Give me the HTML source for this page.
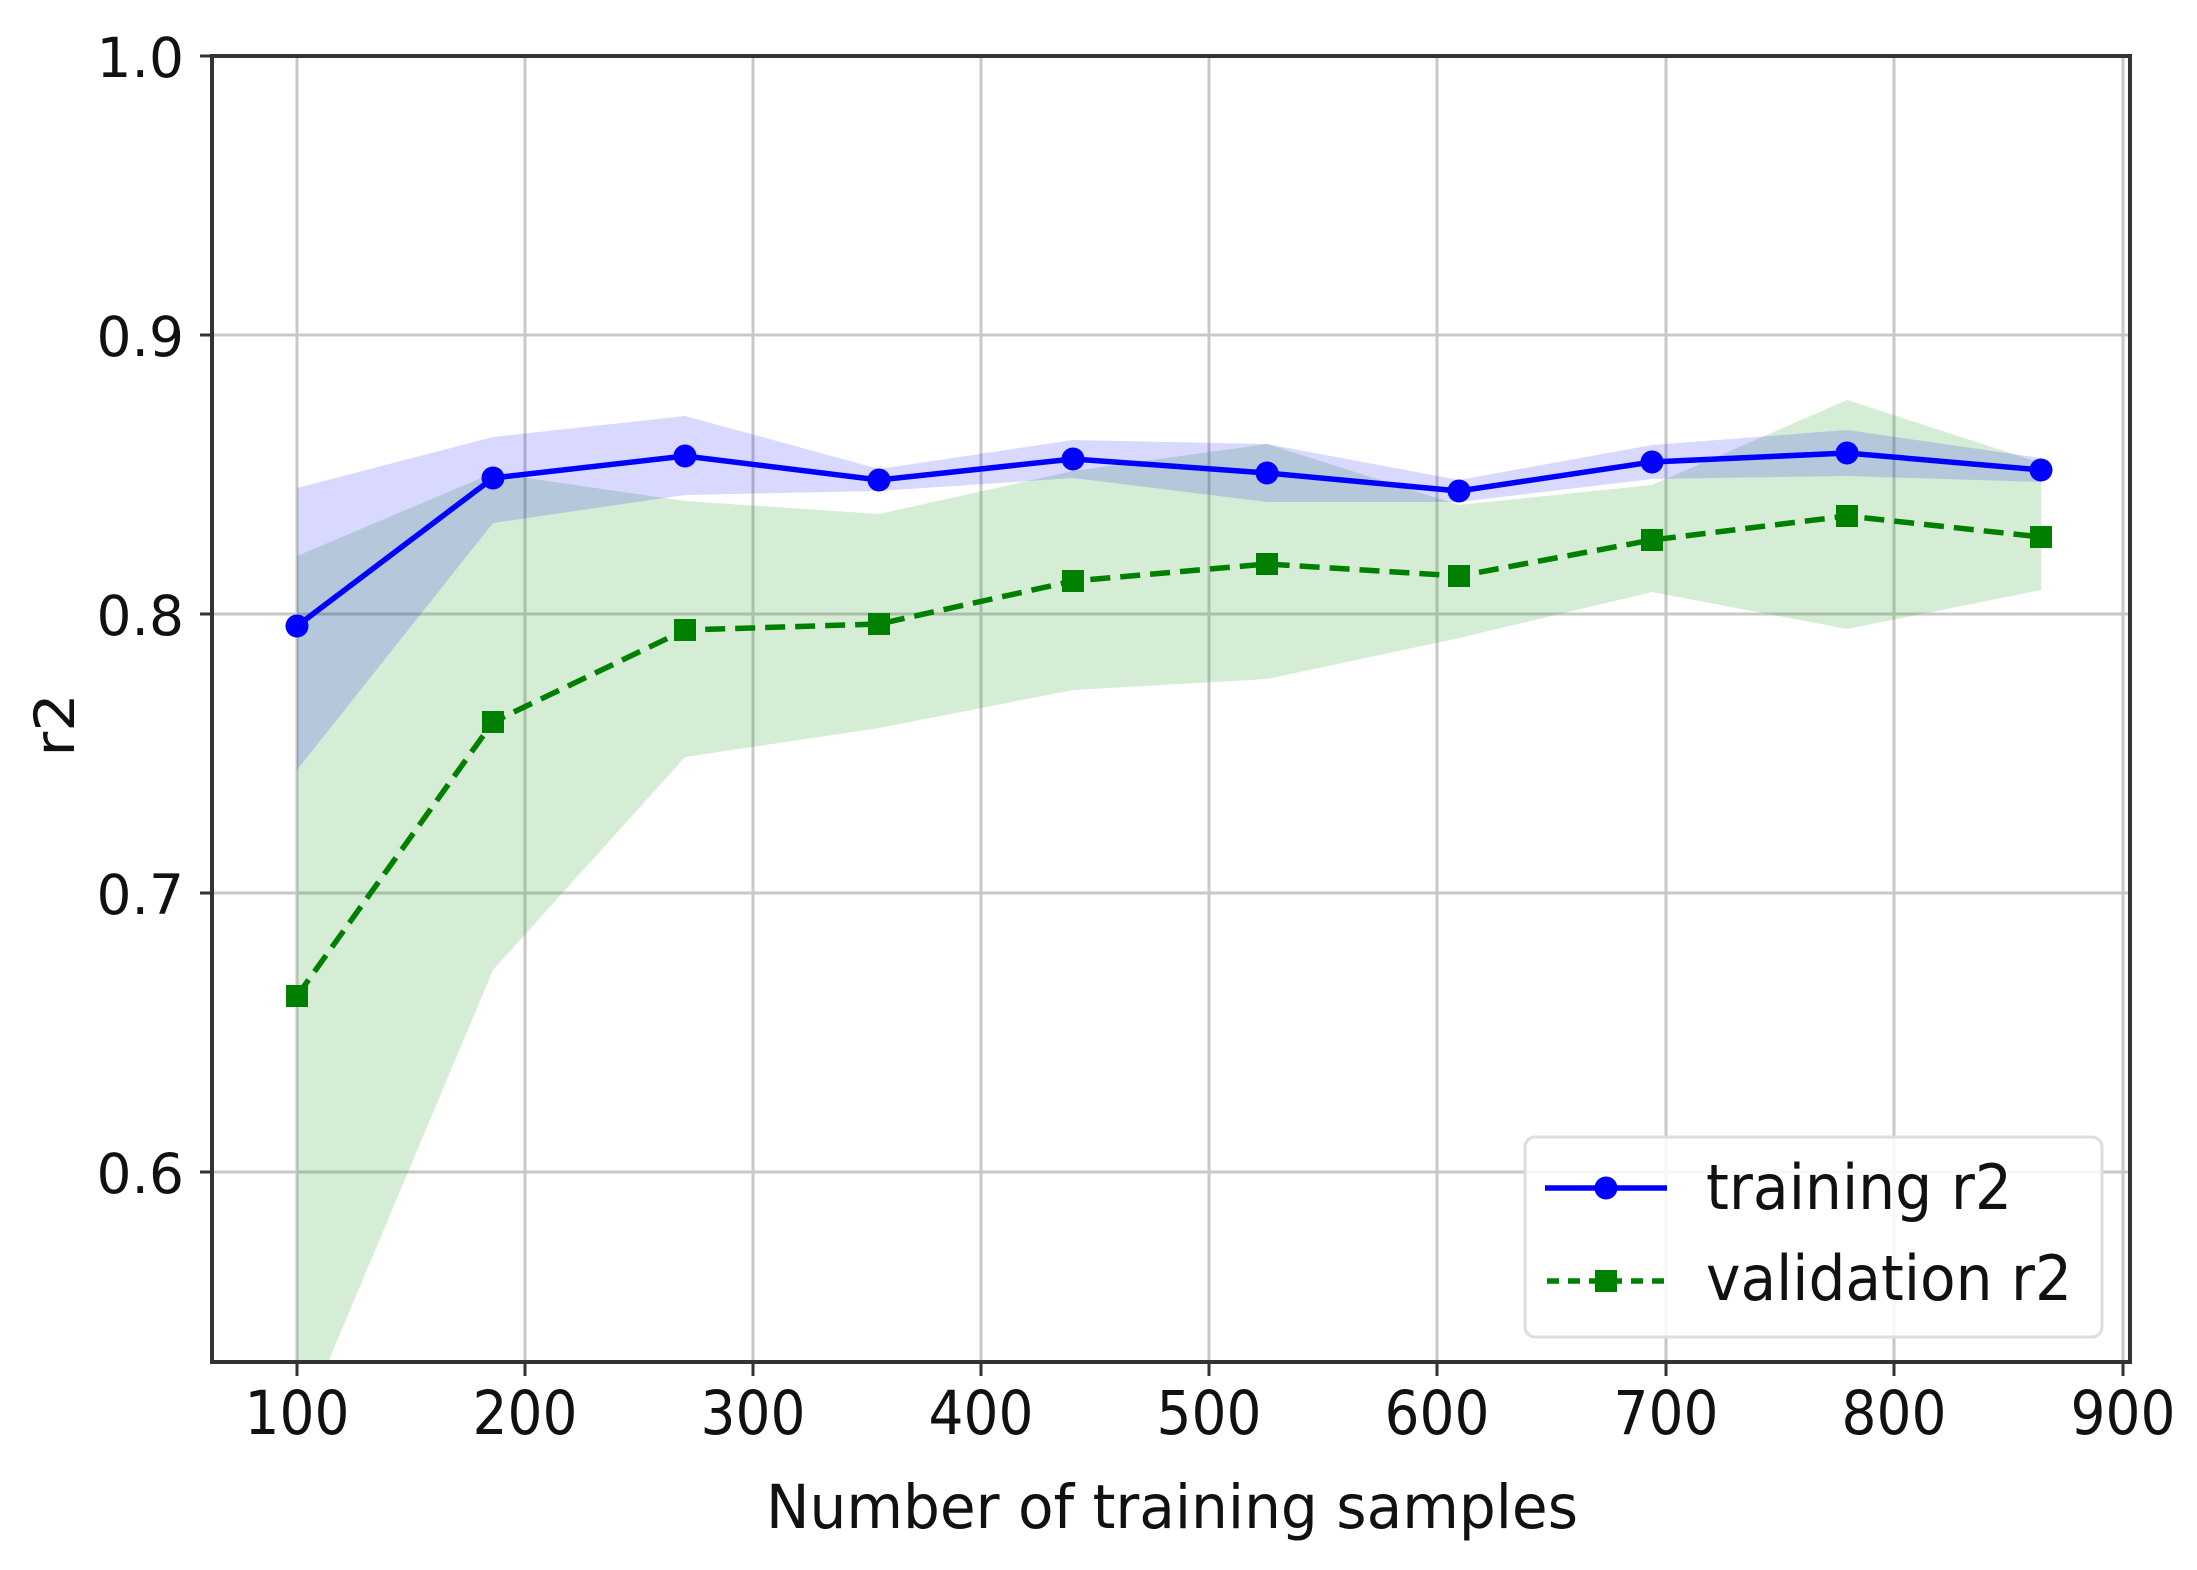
<!DOCTYPE html>
<html><head><meta charset="utf-8"><style>
html,body{margin:0;padding:0;background:#fff}
svg{display:block}
text{font-family:"DejaVu Sans","Liberation Sans",sans-serif;fill:#111}
</style></head><body>
<svg width="2197" height="1570" viewBox="0 0 2197 1570" xmlns="http://www.w3.org/2000/svg">
<defs><clipPath id="c"><rect x="212" y="56" width="1918" height="1306"/></clipPath></defs>
<g stroke="#c8c8c8" stroke-width="3">
<line x1="297" y1="56" x2="297" y2="1362"/><line x1="525" y1="56" x2="525" y2="1362"/><line x1="753" y1="56" x2="753" y2="1362"/><line x1="981" y1="56" x2="981" y2="1362"/><line x1="1209" y1="56" x2="1209" y2="1362"/><line x1="1437" y1="56" x2="1437" y2="1362"/><line x1="1666" y1="56" x2="1666" y2="1362"/><line x1="1894" y1="56" x2="1894" y2="1362"/><line x1="2123" y1="56" x2="2123" y2="1362"/>
<line x1="212" y1="335" x2="2130" y2="335"/><line x1="212" y1="614" x2="2130" y2="614"/><line x1="212" y1="893" x2="2130" y2="893"/><line x1="212" y1="1172" x2="2130" y2="1172"/>
</g>
<g clip-path="url(#c)">
<polygon fill="#2ca02c" fill-opacity="0.2" points="297,556 493,473 685,501 879,514 1073,471 1267,444 1459,505 1652,485 1847,400 2041,463 2041,590 1847,629 1652,592 1459,638 1267,679 1073,690 879,728 685,757 493,970 297,1436"/>
<polygon fill="#0000ff" fill-opacity="0.15" points="297,488 493,437 685,416 879,469 1073,440 1267,444 1459,480 1652,445 1847,430 2041,458 2041,482 1847,476 1652,479 1459,502 1267,502 1073,478 879,491 685,495 493,523 297,770"/>
<polyline fill="none" stroke="#008000" stroke-width="5.5" stroke-dasharray="20,10" points="297,996 493,722 685,630 879,624 1073,581 1267,564 1459,576 1652,540 1847,516 2041,537"/>
<g fill="#008000"><rect x="286" y="985" width="22" height="22"/><rect x="482" y="711" width="22" height="22"/><rect x="674" y="619" width="22" height="22"/><rect x="868" y="613" width="22" height="22"/><rect x="1062" y="570" width="22" height="22"/><rect x="1256" y="553" width="22" height="22"/><rect x="1448" y="565" width="22" height="22"/><rect x="1641" y="529" width="22" height="22"/><rect x="1836" y="505" width="22" height="22"/><rect x="2030" y="526" width="22" height="22"/></g>
<polyline fill="none" stroke="#0000ff" stroke-width="5.5" points="297,626 493,478 685,456 879,480 1073,459 1267,473 1459,491 1652,462 1847,453 2041,470"/>
<g fill="#0000ff"><circle cx="297" cy="626" r="11.5"/><circle cx="493" cy="478" r="11.5"/><circle cx="685" cy="456" r="11.5"/><circle cx="879" cy="480" r="11.5"/><circle cx="1073" cy="459" r="11.5"/><circle cx="1267" cy="473" r="11.5"/><circle cx="1459" cy="491" r="11.5"/><circle cx="1652" cy="462" r="11.5"/><circle cx="1847" cy="453" r="11.5"/><circle cx="2041" cy="470" r="11.5"/></g>
</g>
<rect x="212" y="56" width="1918" height="1306" fill="none" stroke="#333" stroke-width="4"/>
<g stroke="#333" stroke-width="3">
<line x1="297" y1="1362" x2="297" y2="1376"/><line x1="525" y1="1362" x2="525" y2="1376"/><line x1="753" y1="1362" x2="753" y2="1376"/><line x1="981" y1="1362" x2="981" y2="1376"/><line x1="1209" y1="1362" x2="1209" y2="1376"/><line x1="1437" y1="1362" x2="1437" y2="1376"/><line x1="1666" y1="1362" x2="1666" y2="1376"/><line x1="1894" y1="1362" x2="1894" y2="1376"/><line x1="2123" y1="1362" x2="2123" y2="1376"/>
<line x1="200" y1="56" x2="212" y2="56"/><line x1="200" y1="335" x2="212" y2="335"/><line x1="200" y1="614" x2="212" y2="614"/><line x1="200" y1="893" x2="212" y2="893"/><line x1="200" y1="1172" x2="212" y2="1172"/>
</g>
<g font-size="55" text-anchor="end">
<text x="184" y="77">1.0</text>
<text x="184" y="356">0.9</text>
<text x="184" y="635">0.8</text>
<text x="184" y="914">0.7</text>
<text x="184" y="1193">0.6</text>
</g>
<g font-size="55" text-anchor="middle">
<text transform="translate(297,1434) scale(1,1.1)">100</text>
<text transform="translate(525,1434) scale(1,1.1)">200</text>
<text transform="translate(753,1434) scale(1,1.1)">300</text>
<text transform="translate(981,1434) scale(1,1.1)">400</text>
<text transform="translate(1209,1434) scale(1,1.1)">500</text>
<text transform="translate(1437,1434) scale(1,1.1)">600</text>
<text transform="translate(1666,1434) scale(1,1.1)">700</text>
<text transform="translate(1894,1434) scale(1,1.1)">800</text>
<text transform="translate(2123,1434) scale(1,1.1)">900</text>
</g>
<text transform="translate(766,1528) scale(1,1.1)" font-size="55" textLength="812" lengthAdjust="spacingAndGlyphs">Number of training samples</text>
<text transform="translate(74,725) rotate(-90) scale(1.1,1)" font-size="55" text-anchor="middle">r2</text>
<rect x="1525" y="1137" width="577" height="200" rx="10" fill="#fff" fill-opacity="0.85" stroke="#ddd" stroke-width="3"/>
<line x1="1545" y1="1188" x2="1667" y2="1188" stroke="#0000ff" stroke-width="5.5"/>
<circle cx="1606" cy="1188" r="11.5" fill="#0000ff"/>
<line x1="1547" y1="1281" x2="1667" y2="1281" stroke="#008000" stroke-width="5.5" stroke-dasharray="12,9"/>
<rect x="1595" y="1270" width="22" height="22" fill="#008000"/>
<text transform="translate(1706,1209) scale(1,1.1)" font-size="57" textLength="306" lengthAdjust="spacingAndGlyphs">training r2</text>
<text transform="translate(1706,1300) scale(1,1.1)" font-size="57" textLength="366" lengthAdjust="spacingAndGlyphs">validation r2</text>
</svg>
</body></html>
